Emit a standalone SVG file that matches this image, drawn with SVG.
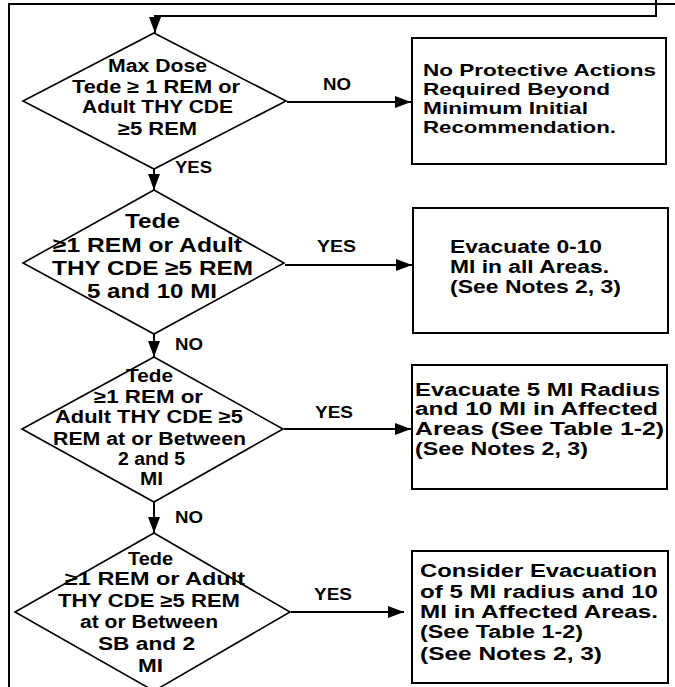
<svg xmlns="http://www.w3.org/2000/svg" width="675" height="687" viewBox="0 0 675 687">
<style>
  .bg{fill:#fff}
  .shape{fill:#fff;stroke:#000;stroke-width:1.6}
  .box{fill:#fff;stroke:#000;stroke-width:2}
  .ln{fill:none;stroke:#000;stroke-width:2}
  .t{font-family:"Liberation Sans",Arial,sans-serif;font-weight:bold;font-size:18px;fill:#000}
  .t20{font-size:20px}
  .t17{font-size:16.5px}
  .lbl{font-family:"Liberation Sans",Arial,sans-serif;font-weight:bold;font-size:16px;fill:#000}
</style>
<defs>
  <marker id="ah" viewBox="0 0 16 12" refX="16" refY="6" markerWidth="16" markerHeight="12" markerUnits="userSpaceOnUse" orient="auto">
    <path d="M0,0 L16,6 L0,12 z" fill="#000"/>
  </marker>
</defs>
<rect class="bg" x="0" y="0" width="675" height="687"/>

<g id="connectors">
  <path class="ln" d="M9,687 V4 H675"/>
  <path class="ln" d="M656,0 V16 H155 V33" marker-end="url(#ah)"/>
  <path class="ln" d="M154,169 V190" marker-end="url(#ah)"/>
  <path class="ln" d="M154,334 V357" marker-end="url(#ah)"/>
  <path class="ln" d="M154,502 V533" marker-end="url(#ah)"/>
  <path class="ln" d="M287,102 H411" marker-end="url(#ah)"/>
  <path class="ln" d="M285,265 H412" marker-end="url(#ah)"/>
  <path class="ln" d="M284,429 H411" marker-end="url(#ah)"/>
  <path class="ln" d="M291,612 H404" marker-end="url(#ah)"/>
  <text class="lbl" x="175" y="173" textLength="37" lengthAdjust="spacingAndGlyphs">YES</text>
  <text class="lbl" x="175" y="350" textLength="28" lengthAdjust="spacingAndGlyphs">NO</text>
  <text class="lbl" x="175" y="523" textLength="28" lengthAdjust="spacingAndGlyphs">NO</text>
  <text class="lbl" x="323" y="90" textLength="28" lengthAdjust="spacingAndGlyphs">NO</text>
  <text class="lbl" x="317" y="252" textLength="39" lengthAdjust="spacingAndGlyphs">YES</text>
  <text class="lbl" x="315" y="418" textLength="38" lengthAdjust="spacingAndGlyphs">YES</text>
  <text class="lbl" x="314" y="600" textLength="38" lengthAdjust="spacingAndGlyphs">YES</text>
</g>

<g id="d1">
  <polygon class="shape" points="154,33 286,101 154,169 23,101"/>
  <text class="t" x="108" y="72" textLength="99" lengthAdjust="spacingAndGlyphs">Max Dose</text>
  <text class="t" x="72" y="93" textLength="168" lengthAdjust="spacingAndGlyphs">Tede ≥ 1 REM or</text>
  <text class="t" x="82" y="113" textLength="151" lengthAdjust="spacingAndGlyphs">Adult THY CDE</text>
  <text class="t" x="118" y="135" textLength="79" lengthAdjust="spacingAndGlyphs">≥5 REM</text>
</g>

<g id="d2">
  <polygon class="shape" points="154,190 284,263 154,334 23,263"/>
  <text class="t t20" x="125" y="228" textLength="55" lengthAdjust="spacingAndGlyphs">Tede</text>
  <text class="t t20" x="53" y="252" textLength="189" lengthAdjust="spacingAndGlyphs">≥1 REM or Adult</text>
  <text class="t t20" x="52" y="275" textLength="201" lengthAdjust="spacingAndGlyphs">THY CDE ≥5 REM</text>
  <text class="t t20" x="87" y="298" textLength="130" lengthAdjust="spacingAndGlyphs">5 and 10 MI</text>
</g>

<g id="d3">
  <polygon class="shape" points="154,357 283,429 154,502 22,429"/>
  <text class="t" x="126" y="382" textLength="47" lengthAdjust="spacingAndGlyphs">Tede</text>
  <text class="t" x="94" y="403" textLength="109" lengthAdjust="spacingAndGlyphs">≥1 REM or</text>
  <text class="t" x="55" y="423" textLength="188" lengthAdjust="spacingAndGlyphs">Adult THY CDE ≥5</text>
  <text class="t" x="53" y="445" textLength="193" lengthAdjust="spacingAndGlyphs">REM at or Between</text>
  <text class="t" x="118" y="465" textLength="67" lengthAdjust="spacingAndGlyphs">2 and 5</text>
  <text class="t" x="140" y="485" textLength="23" lengthAdjust="spacingAndGlyphs">MI</text>
</g>

<g id="d4">
  <polygon class="shape" points="154,533 290,612 154,691 15,612"/>
  <text class="t" x="128" y="565" textLength="45" lengthAdjust="spacingAndGlyphs">Tede</text>
  <text class="t" x="65" y="585" textLength="180" lengthAdjust="spacingAndGlyphs">≥1 REM or Adult</text>
  <text class="t" x="58" y="607" textLength="182" lengthAdjust="spacingAndGlyphs">THY CDE ≥5 REM</text>
  <text class="t" x="80" y="628" textLength="138" lengthAdjust="spacingAndGlyphs">at or Between</text>
  <text class="t" x="98" y="650" textLength="97" lengthAdjust="spacingAndGlyphs">SB and 2</text>
  <text class="t" x="138" y="672" textLength="25" lengthAdjust="spacingAndGlyphs">MI</text>
</g>

<g id="b1">
  <rect class="box" x="412" y="38" width="254" height="126"/>
  <text class="t t17" x="423" y="76" textLength="233" lengthAdjust="spacingAndGlyphs">No Protective Actions</text>
  <text class="t t17" x="423" y="95" textLength="187" lengthAdjust="spacingAndGlyphs">Required Beyond</text>
  <text class="t t17" x="423" y="114" textLength="165" lengthAdjust="spacingAndGlyphs">Minimum Initial</text>
  <text class="t t17" x="423" y="133" textLength="193" lengthAdjust="spacingAndGlyphs">Recommendation.</text>
</g>

<g id="b2">
  <rect class="box" x="413" y="208" width="255" height="125"/>
  <text class="t" x="450" y="253" textLength="152" lengthAdjust="spacingAndGlyphs">Evacuate 0-10</text>
  <text class="t" x="450" y="273" textLength="159" lengthAdjust="spacingAndGlyphs">MI in all Areas.</text>
  <text class="t" x="450" y="293" textLength="171" lengthAdjust="spacingAndGlyphs">(See Notes 2, 3)</text>
</g>

<g id="b3">
  <rect class="box" x="412" y="365" width="255" height="124"/>
  <text class="t" x="415" y="396" textLength="245" lengthAdjust="spacingAndGlyphs">Evacuate 5 MI Radius</text>
  <text class="t" x="415" y="415" textLength="243" lengthAdjust="spacingAndGlyphs">and 10 MI in Affected</text>
  <text class="t" x="415" y="435" textLength="249" lengthAdjust="spacingAndGlyphs">Areas (See Table 1-2)</text>
  <text class="t" x="415" y="455" textLength="173" lengthAdjust="spacingAndGlyphs">(See Notes 2, 3)</text>
</g>

<g id="b4">
  <rect class="box" x="412" y="551" width="256" height="132"/>
  <text class="t" x="420" y="577" textLength="237" lengthAdjust="spacingAndGlyphs">Consider Evacuation</text>
  <text class="t" x="420" y="598" textLength="238" lengthAdjust="spacingAndGlyphs">of 5 MI radius and 10</text>
  <text class="t" x="420" y="618" textLength="238" lengthAdjust="spacingAndGlyphs">MI in Affected Areas.</text>
  <text class="t" x="420" y="638" textLength="163" lengthAdjust="spacingAndGlyphs">(See Table 1-2)</text>
  <text class="t" x="420" y="660" textLength="182" lengthAdjust="spacingAndGlyphs">(See Notes 2, 3)</text>
</g>
</svg>
